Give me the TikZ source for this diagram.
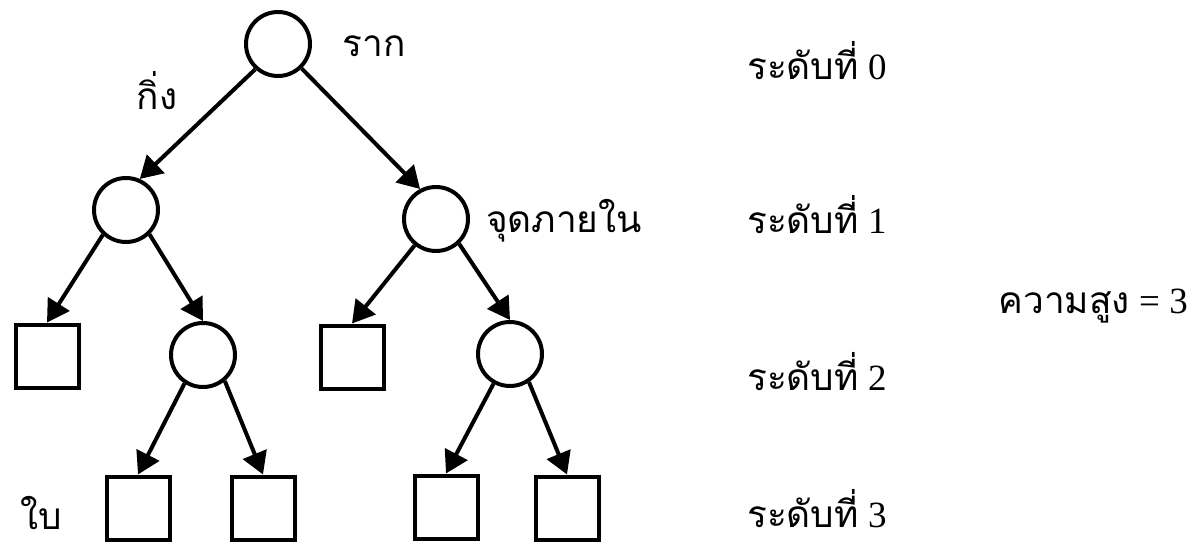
\documentclass[tikz,border=0pt]{standalone}
\usepackage{fontspec}
\setmainfont{Liberation Serif}
\newfontfamily\thai[Script=Thai]{Loma}
\usetikzlibrary{arrows.meta}
\begin{document}
\begin{tikzpicture}[x=1pt,y=-1pt,
  cnode/.style={circle,draw,line width=4pt,minimum size=64pt,inner sep=0pt},
  snode/.style={rectangle,draw,line width=4pt,minimum size=63pt,inner sep=0pt},
  edge/.style={line width=4pt,-{Triangle[length=22pt,width=25pt]}},
  lbl/.style={inner sep=0pt,font=\fontsize{37}{40}\selectfont}
]
\useasboundingbox (0,0) rectangle (1194,543);
% nodes
\node[cnode] (r) at (278,44) {};
\node[cnode] (a) at (126,210) {};
\node[cnode] (b) at (436,219) {};
\node[snode] (c) at (47,356) {};
\node[cnode] (d) at (203,355) {};
\node[snode] (e) at (352,357) {};
\node[cnode] (f) at (510,354) {};
\node[snode] (g) at (138,508) {};
\node[snode] (h) at (263,508) {};
\node[snode] (i) at (446,507) {};
\node[snode] (j) at (567,508) {};
% edges
\draw[edge] (r.228) -- (a.66);
\draw[edge] (r.314) -- (b.118);
\draw[edge] (a.227) -- (c.north);
\draw[edge] (a.314) -- (d.north);
\draw[edge] (b.231) -- (e.north);
\draw[edge] (b.313) -- (f.north);
\draw[edge] (d.237) -- (g.north);
\draw[edge] (d.310) -- (h.north);
\draw[edge] (f.241) -- (i.north);
\draw[edge] (f.304) -- (j.north);
% labels
\node[lbl,anchor=base] (tr) at (374,57) {\thai ราก};
\node[lbl,anchor=base] (tk) at (157,110) {\thai กิ่ง};
\node[lbl,anchor=base] (tj) at (564,232) {\thai จุดภายใน};
\node[lbl,anchor=base] (tb) at (41,529) {\thai ใบ};
\node[lbl,anchor=base west] (l0) at (747,80) {{\thai ระดับที่} 0};
\node[lbl,anchor=base west] (l1) at (747,233) {{\thai ระดับที่} 1};
\node[lbl,anchor=base west] (l2) at (747,390) {{\thai ระดับที่} 2};
\node[lbl,anchor=base west] (l3) at (747,527) {{\thai ระดับที่} 3};
\node[lbl,anchor=base east] (ht) at (1188,313) {{\thai ความสูง} = 3};
\end{tikzpicture}
\end{document}
